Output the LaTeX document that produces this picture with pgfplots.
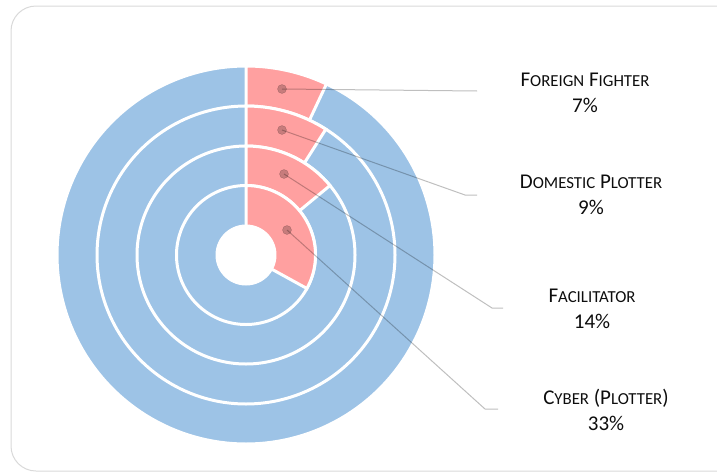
\documentclass[border=0pt]{standalone}
\usepackage{pgfplots}
\pgfplotsset{compat=1.18}
\usepackage{fontspec}
\setmainfont{Carlito}

\definecolor{ringblue}{RGB}{157,195,230}
\definecolor{wedgepink}{RGB}{255,160,160}
\definecolor{framegray}{RGB}{217,217,217}
\definecolor{labeltext}{RGB}{13,13,13}

% fake small caps: lower part of the word in a smaller size
\newcommand{\smc}[1]{{\fontsize{16.8}{26}\selectfont #1}}

\begin{document}
\begin{tikzpicture}
\begin{axis}[
    width=717pt, height=474pt, scale only axis,
    xmin=0, xmax=717, ymin=0, ymax=474,
    y dir=reverse,
    hide axis, clip=false,
    every axis plot/.append style={line join=miter},
]
\coordinate (bl) at (axis cs:0,474);
\coordinate (tr) at (axis cs:717,0);

% card frame
\draw[framegray, line width=1pt, rounded corners=25pt]
    (axis cs:11,6) rectangle (axis cs:745,471);

% ring 4 (outer): Foreign Fighter 7%
\addplot[fill=ringblue, draw=white, line width=3pt, domain=0:360, samples=181]
    ({246+189*sin(x)}, {255-189*cos(x)}) -- cycle;
\addplot[fill=wedgepink, draw=white, line width=3pt, domain={0:3.6*7}, samples=30]
    ({246+189*sin(x)}, {255-189*cos(x)}) -- (axis cs:246,255) -- cycle;

% ring 3: Domestic Plotter 9%
\addplot[fill=ringblue, draw=white, line width=3pt, domain=0:360, samples=181]
    ({246+149*sin(x)}, {255-149*cos(x)}) -- cycle;
\addplot[fill=wedgepink, draw=white, line width=3pt, domain={0:3.6*9}, samples=30]
    ({246+149*sin(x)}, {255-149*cos(x)}) -- (axis cs:246,255) -- cycle;

% ring 2: Facilitator 14%
\addplot[fill=ringblue, draw=white, line width=3pt, domain=0:360, samples=181]
    ({246+109*sin(x)}, {255-109*cos(x)}) -- cycle;
\addplot[fill=wedgepink, draw=white, line width=3pt, domain={0:3.6*14}, samples=30]
    ({246+109*sin(x)}, {255-109*cos(x)}) -- (axis cs:246,255) -- cycle;

% ring 1 (inner): Cyber (Plotter) 33%
\addplot[fill=ringblue, draw=white, line width=3pt, domain=0:360, samples=181]
    ({246+69.5*sin(x)}, {255-69.5*cos(x)}) -- cycle;
\addplot[fill=wedgepink, draw=white, line width=3pt, domain={0:3.6*33}, samples=40]
    ({246+69.5*sin(x)}, {255-69.5*cos(x)}) -- (axis cs:246,255) -- cycle;

% hole
\addplot[fill=white, draw=white, line width=1pt, domain=0:360, samples=91]
    ({246+30*sin(x)}, {255-30*cos(x)}) -- cycle;

% leader lines
\addplot[black, opacity=0.25, line width=1pt, mark=none] coordinates {(282,89) (477,91)};
\addplot[black, opacity=0.25, line width=1pt, mark=none] coordinates {(282,130) (465,195) (477,195)};
\addplot[black, opacity=0.25, line width=1pt, mark=none] coordinates {(284,174) (492,308) (503,308)};
\addplot[black, opacity=0.25, line width=1pt, mark=none] coordinates {(287,230) (485,409) (498,409)};

% label dots
\addplot[only marks, mark=*, mark size=4.5pt, black, opacity=0.22]
    coordinates {(282,89) (282,130) (284,174) (287,230)};

% labels
\node[align=center, text=labeltext, font=\fontsize{21}{26}\selectfont]
    at (axis cs:585,93) {F\smc{OREIGN} F\smc{IGHTER}\\7\%};
\node[align=center, text=labeltext, font=\fontsize{21}{26}\selectfont]
    at (axis cs:591,195) {D\smc{OMESTIC} P\smc{LOTTER}\\9\%};
\node[align=center, text=labeltext, font=\fontsize{21}{26}\selectfont]
    at (axis cs:592,309) {F\smc{ACILITATOR}\\14\%};
\node[align=center, text=labeltext, font=\fontsize{21}{26}\selectfont]
    at (axis cs:606,410) {C\smc{YBER} (P\smc{LOTTER})\\33\%};
\end{axis}
\pgfresetboundingbox
\path[use as bounding box] (bl) rectangle (tr);
\end{tikzpicture}
\end{document}
